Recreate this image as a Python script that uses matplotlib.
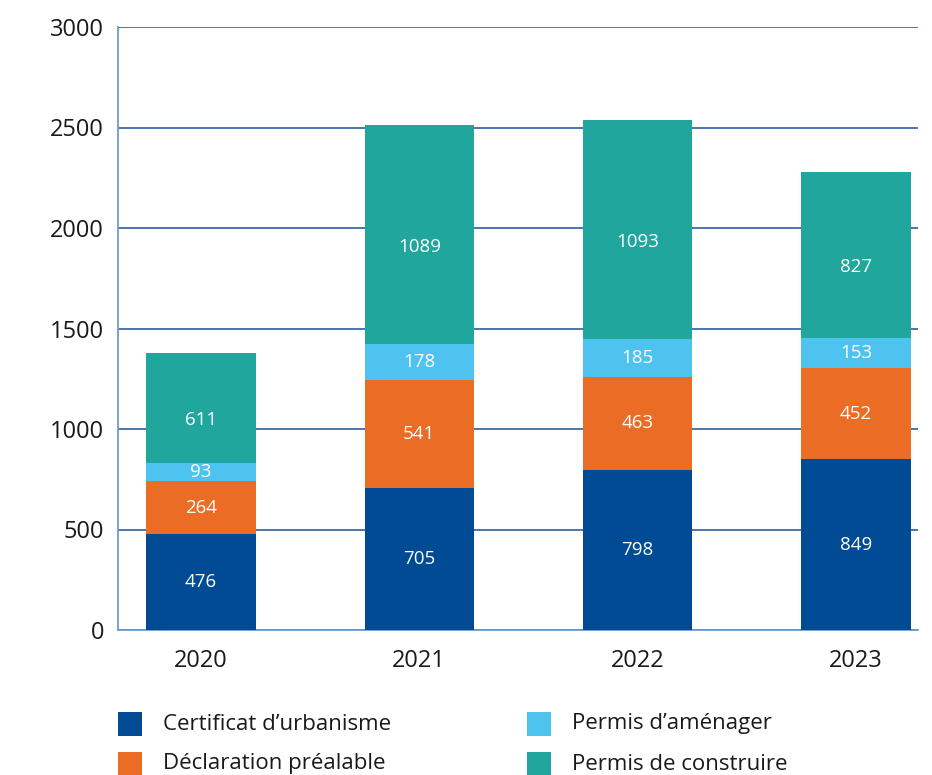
import matplotlib
matplotlib.use("Agg")
import matplotlib.pyplot as plt
from matplotlib.patches import Rectangle
import numpy as np

years = ["2020", "2021", "2022", "2023"]
series_names = ["Certificat d\u2019urbanisme", "D\u00e9claration pr\u00e9alable",
                "Permis d\u2019am\u00e9nager", "Permis de construire"]
certificat = [476, 705, 798, 849]
declaration = [264, 541, 463, 452]
amenager = [93, 178, 185, 153]
# bar heights as drawn in the picture (2020 bar is drawn shorter than its label)
construire = [547, 1089, 1093, 827]
construire_labels = ["611", "1089", "1093", "827"]
colors = ["#004b93", "#eb6c24", "#4fc3f0", "#21a69e"]

plt.rcParams['font.family'] = ['Open Sans', 'DejaVu Sans']

fig = plt.figure(figsize=(9.32, 7.75), dpi=100)
ax = fig.add_axes([118/932, 1-630/775, (918-118)/932, (630-27)/775])

x = np.arange(len(years))
bottom = np.zeros(len(years))
all_vals = [certificat, declaration, amenager, construire]
all_labels = [[str(v) for v in certificat], [str(v) for v in declaration],
              [str(v) for v in amenager], construire_labels]
for k, (vals, labs, col) in enumerate(zip(all_vals, all_labels, colors)):
    vals = np.array(vals)
    ax.bar(x, vals, width=0.5, bottom=bottom, color=col, zorder=3)
    for xi, b, v, lab in zip(x, bottom, vals, labs):
        off = -9 if k == 3 else 0
        ax.annotate(lab, (xi, b + v/2), xytext=(0, off), textcoords='offset points',
                    ha='center', va='center', color='white', fontsize=13.5, zorder=4)
    bottom += vals

ax.set_ylim(0, 3000)
ax.set_xlim(-0.38, 3.284)
ax.set_yticks(np.arange(0, 3001, 500))
ax.set_xticks(x)
ax.set_xticklabels(years)
ax.grid(axis='y', color='#3d6aa8', linewidth=1.3, zorder=0)
ax.set_axisbelow(True)
for s in ['top', 'right']:
    ax.spines[s].set_visible(False)
ax.spines['left'].set_color('#6b9bd1')
ax.spines['left'].set_linewidth(1.3)
ax.spines['bottom'].set_color('#6b9bd1')
ax.spines['bottom'].set_linewidth(1.3)
ax.tick_params(axis='both', length=0, labelsize=17, colors='#1a1a1a')
ax.tick_params(axis='y', pad=10)
ax.tick_params(axis='x', pad=14)

# legend drawn manually in figure pixel coordinates
W, H = 932, 775
leg_pos = [(118, 724), (118, 764), (527, 724), (527, 764)]
for (px, py), col, name in zip(leg_pos, colors, series_names):
    fig.patches.append(Rectangle((px/W, 1-(py+12)/H), 24/W, 24/H,
                                 transform=fig.transFigure, facecolor=col,
                                 edgecolor='none'))
    fig.text((px+45)/W, 1-py/H, name, ha='left', va='center', fontsize=16,
             color='#1a1a1a')

fig.savefig("out.png", dpi=100)
